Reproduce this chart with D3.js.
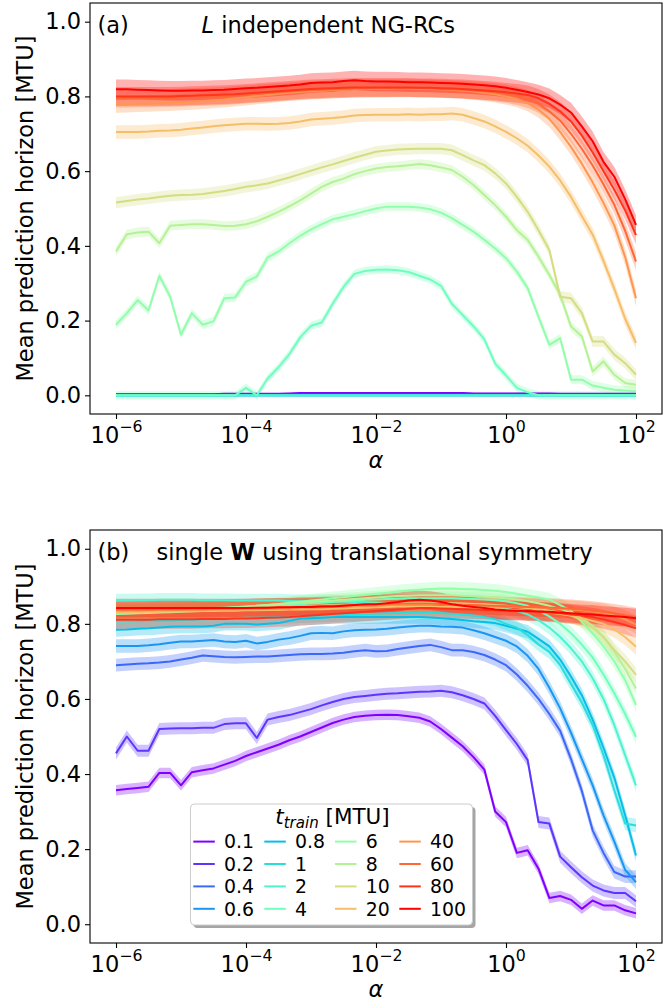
<!DOCTYPE html>
<html>
<head>
<meta charset="utf-8">
<script src="https://cdn.jsdelivr.net/npm/d3@7"></script>
<style>
  body { margin: 0; background: #fff; }
  svg { display: block; font-family: "DejaVu Sans", sans-serif; }
</style>
</head>
<body>
<svg id="chart" width="672" height="1004"></svg>
<script>
// t_train values (legend) and regularisation grid
const tTrain = ["0.1", "0.2", "0.4", "0.6", "0.8", "1", "2", "4", "6", "8", "10", "20", "40", "60", "80", "100"];
const alphas = [
  1e-6, 1.468e-6, 2.154e-6, 3.162e-6, 4.642e-6, 6.813e-6,
  1e-5, 1.468e-5, 2.154e-5, 3.162e-5, 4.642e-5, 6.813e-5,
  1e-4, 1.468e-4, 2.154e-4, 3.162e-4, 4.642e-4, 6.813e-4,
  1e-3, 1.468e-3, 2.154e-3, 3.162e-3, 4.642e-3, 6.813e-3,
  1e-2, 1.468e-2, 2.154e-2, 3.162e-2, 4.642e-2, 6.813e-2,
  1e-1, 1.468e-1, 2.154e-1, 3.162e-1, 4.642e-1, 6.813e-1,
  1, 1.468, 2.154, 3.162, 4.642, 6.813,
  10, 14.68, 21.54, 31.62, 46.42, 68.13,
  100
];
const xTickVals = [1e-6, 1e-4, 1e-2, 1, 100];
const xTickExp = ["\u22126", "\u22124", "\u22122", "0", "2"];
const yTicks = [0, 0.2, 0.4, 0.6, 0.8, 1.0];
const yTickLabels = ["0.0", "0.2", "0.4", "0.6", "0.8", "1.0"];

// (a) L independent NG-RCs
const a01 = [.003,.003,.003,.003,.003,.003,.003,.003,.003,.003,.004,.004,.004,.004,.004,.004,.005,.006,.006,.006,.006,.006,.006,.006,.006,.006,.006,.006,.006,.006,.006,.006,.006,.005,.005,.005,.005,.005,.005,.005,.005,.004,.004,.004,.004,.004,.004,.004,.004];
const a02 = [.002,.002,.002,.002,.002,.002,.002,.002,.002,.002,.002,.002,.002,.002,.002,.002,.002,.002,.002,.002,.002,.002,.002,.002,.002,.002,.002,.002,.002,.002,.002,.002,.002,.002,.002,.002,.002,.002,.002,.002,.002,.002,.002,.002,.002,.002,.002,.002,.002];
const a04 = [.001,.001,.001,.001,.001,.001,.001,.001,.001,.001,.001,.001,.001,.001,.001,.001,.001,.001,.001,.001,.001,.001,.001,.001,.001,.001,.001,.001,.001,.001,.001,.001,.001,.001,.001,.001,.001,.001,.001,.001,.001,.001,.001,.001,.001,.001,.001,.001,.001];
const a06 = [0,0,0,0,0,0,0,0,0,0,0,0,0,0,0,0,0,0,0,0,0,0,0,0,0,0,0,0,0,0,0,0,0,0,0,0,0,0,0,0,0,0,0,0,0,0,0,0,0];
const a08 = [0,0,0,0,0,0,0,0,0,0,0,0,0,0,0,0,0,0,0,0,0,0,0,0,0,0,0,0,0,0,0,0,0,0,0,0,0,0,0,0,0,0,0,0,0,0,0,0,0];
const a1 = [0,0,0,0,0,0,0,0,0,0,0,0,0,0,0,0,0,0,0,0,0,0,0,0,0,0,0,0,0,0,0,0,0,0,0,0,0,0,0,0,0,0,0,0,0,0,0,0,0];
const a2 = [0,0,0,0,0,0,0,0,0,0,0,0,0,0,0,0,0,0,0,0,0,0,0,0,0,0,0,0,0,0,0,0,0,0,0,0,0,0,0,0,0,0,0,0,0,0,0,0,0];
const a4 = [0,0,0,0,0,0,0,0,0,0,0,0,.02,0,.045,.075,.11,.155,.186,.195,.245,.29,.325,.333,.336,.337,.335,.33,.32,.31,.293,.245,.215,.185,.15,.085,.053,.02,.008,0,0,0,0,0,0,0,0,0,0];
const a6 = [.189,.22,.255,.227,.32,.264,.162,.22,.189,.198,.26,.262,.304,.318,.369,.385,.407,.427,.444,.458,.471,.478,.485,.493,.50,.505,.505,.505,.503,.498,.489,.474,.456,.438,.416,.393,.367,.331,.287,.21,.135,.153,.042,.042,.026,.02,.015,.013,.011];
const a8 = [.385,.431,.436,.438,.407,.454,.456,.458,.458,.456,.453,.454,.458,.466,.478,.491,.506,.522,.540,.558,.571,.580,.592,.60,.607,.611,.613,.616,.619,.616,.61,.603,.585,.563,.536,.509,.478,.442,.416,.371,.322,.269,.184,.158,.064,.091,.055,.033,.028];
const a10 = [.516,.520,.524,.527,.531,.534,.536,.537,.539,.543,.547,.552,.558,.562,.567,.575,.583,.592,.601,.610,.618,.627,.636,.644,.652,.655,.658,.659,.660,.660,.66,.656,.643,.629,.616,.594,.567,.531,.491,.442,.389,.264,.26,.22,.144,.144,.109,.086,.055];
const a20 = [.705,.705,.705,.706,.708,.709,.711,.714,.717,.720,.723,.725,.727,.727,.726,.727,.729,.733,.738,.740,.742,.745,.749,.750,.751,.751,.751,.752,.751,.752,.752,.754,.751,.742,.733,.72,.705,.688,.668,.642,.612,.575,.531,.48,.43,.36,.285,.205,.14];
const a40 = [.778,.779,.780,.781,.782,.783,.785,.786,.788,.790,.792,.795,.798,.801,.804,.807,.810,.812,.814,.815,.817,.818,.819,.820,.820,.820,.821,.821,.820,.820,.819,.818,.816,.813,.810,.806,.800,.793,.782,.765,.74,.705,.665,.62,.57,.515,.455,.37,.26];
const a60 = [.794,.794,.795,.795,.796,.796,.797,.798,.799,.80,.801,.803,.805,.807,.809,.811,.813,.815,.817,.818,.819,.820,.821,.821,.822,.822,.822,.822,.822,.821,.820,.819,.818,.816,.814,.811,.807,.801,.793,.78,.76,.735,.70,.66,.615,.565,.51,.44,.358];
const a80 = [.800,.800,.800,.800,.800,.800,.801,.802,.803,.804,.805,.806,.808,.810,.812,.814,.816,.818,.820,.821,.822,.823,.824,.824,.824,.824,.824,.824,.823,.823,.822,.821,.820,.818,.816,.814,.811,.808,.804,.795,.78,.76,.733,.695,.65,.60,.55,.495,.429];
const a100 = [.819,.819,.818,.817,.816,.815,.815,.816,.816,.817,.818,.820,.822,.823,.825,.827,.829,.832,.836,.837,.838,.841,.843,.841,.840,.840,.839,.838,.838,.837,.836,.835,.834,.832,.830,.827,.823,.818,.812,.805,.795,.778,.757,.72,.68,.625,.585,.525,.456];
const errA = [.002, .002, .002, .002, .002, .002, .002, .011, .012, .013, .015, .018, .022, .024, .025, .026];

// (b) single W using translational symmetry
const b01 = [.357,.36,.363,.366,.403,.403,.37,.405,.41,.415,.425,.435,.448,.458,.468,.478,.49,.50,.512,.524,.536,.545,.552,.555,.557,.558,.557,.554,.55,.54,.52,.497,.474,.445,.412,.30,.272,.19,.197,.148,.07,.075,.065,.041,.063,.05,.05,.037,.029];
const b02 = [.455,.50,.462,.462,.52,.521,.522,.522,.523,.523,.533,.535,.535,.496,.545,.552,.557,.565,.573,.583,.592,.60,.605,.608,.611,.614,.615,.617,.619,.62,.622,.618,.61,.60,.588,.555,.517,.48,.437,.272,.268,.18,.152,.125,.103,.09,.083,.083,.061];
const b04 = [.690,.692,.694,.695,.697,.70,.705,.71,.716,.714,.712,.711,.712,.713,.713,.715,.717,.719,.72,.72,.721,.723,.727,.73,.727,.728,.733,.737,.741,.744,.738,.730,.73,.725,.717,.705,.69,.665,.635,.60,.56,.515,.44,.355,.25,.19,.139,.127,.127];
const b06 = [.741,.741,.741,.743,.746,.75,.753,.753,.755,.757,.753,.752,.755,.748,.752,.758,.762,.768,.775,.776,.775,.78,.783,.784,.785,.787,.79,.793,.795,.795,.793,.792,.79,.783,.775,.765,.755,.74,.715,.68,.63,.575,.51,.44,.37,.29,.22,.145,.112];
const b08 = [.784,.785,.787,.788,.79,.792,.793,.793,.793,.795,.80,.80,.80,.798,.80,.802,.808,.814,.815,.816,.818,.818,.818,.818,.818,.818,.818,.818,.818,.817,.815,.813,.81,.807,.805,.802,.795,.787,.779,.76,.74,.705,.66,.61,.545,.47,.39,.29,.183];
const b1 = [.806,.806,.807,.808,.808,.809,.81,.811,.812,.813,.814,.815,.816,.816,.817,.818,.819,.82,.821,.822,.823,.824,.825,.826,.827,.828,.829,.83,.83,.83,.829,.827,.825,.822,.818,.812,.80,.79,.77,.745,.725,.69,.64,.59,.53,.45,.357,.268,.263];
const b2 = [.862,.862,.863,.863,.864,.864,.864,.864,.863,.863,.863,.862,.862,.862,.862,.862,.861,.86,.86,.86,.86,.859,.858,.858,.857,.856,.856,.855,.855,.854,.853,.852,.85,.848,.846,.843,.84,.835,.825,.81,.79,.765,.735,.70,.655,.60,.53,.45,.37];
const b4 = [.833,.834,.835,.836,.837,.838,.839,.84,.841,.842,.843,.844,.845,.846,.847,.848,.85,.852,.854,.856,.858,.86,.862,.864,.865,.866,.867,.868,.868,.868,.868,.868,.867,.866,.865,.863,.86,.855,.848,.835,.82,.80,.775,.745,.71,.665,.615,.56,.499];
const b6 = [.826,.827,.828,.829,.83,.831,.832,.834,.836,.838,.84,.842,.845,.848,.85,.853,.856,.859,.862,.865,.868,.871,.874,.877,.88,.883,.886,.889,.891,.893,.894,.894,.893,.892,.89,.888,.885,.88,.875,.87,.865,.85,.835,.805,.775,.74,.70,.65,.584];
const b8 = [.83,.831,.832,.833,.834,.835,.836,.837,.838,.84,.842,.844,.846,.848,.85,.852,.854,.856,.858,.86,.862,.864,.866,.868,.87,.872,.874,.875,.876,.876,.876,.876,.875,.874,.872,.87,.868,.865,.86,.855,.848,.84,.83,.815,.795,.765,.725,.68,.628];
const b10 = [.835,.835,.836,.836,.837,.837,.838,.838,.839,.84,.84,.841,.842,.843,.844,.845,.846,.847,.848,.849,.85,.851,.852,.853,.854,.855,.856,.856,.856,.856,.856,.855,.854,.853,.852,.85,.848,.845,.842,.84,.835,.83,.822,.81,.79,.765,.73,.70,.664];
const b20 = [.83,.83,.831,.831,.832,.832,.833,.833,.834,.834,.835,.835,.836,.836,.837,.837,.838,.838,.839,.839,.84,.841,.842,.843,.844,.845,.846,.846,.846,.846,.845,.845,.844,.843,.842,.84,.838,.836,.834,.832,.83,.826,.822,.815,.808,.80,.785,.765,.739];
const b40 = [.835,.835,.835,.836,.836,.836,.837,.837,.837,.838,.838,.838,.839,.839,.84,.84,.841,.842,.843,.844,.845,.846,.847,.848,.849,.85,.851,.852,.852,.852,.852,.851,.85,.849,.848,.847,.846,.845,.844,.843,.842,.84,.838,.836,.833,.83,.822,.812,.798];
const b60 = [.838,.838,.838,.838,.839,.839,.839,.84,.84,.84,.841,.841,.842,.842,.843,.843,.844,.845,.846,.847,.848,.849,.85,.851,.852,.853,.854,.854,.854,.854,.853,.852,.851,.85,.849,.848,.847,.846,.845,.844,.843,.842,.84,.838,.835,.832,.828,.823,.818];
const b80 = [.811,.811,.811,.811,.812,.812,.812,.812,.813,.813,.813,.814,.814,.815,.816,.817,.818,.82,.822,.824,.826,.828,.83,.832,.834,.836,.838,.84,.842,.842,.841,.84,.839,.838,.837,.836,.835,.834,.833,.832,.83,.828,.825,.822,.818,.812,.805,.797,.788];
const b100 = [.842,.842,.842,.842,.842,.842,.842,.842,.842,.842,.842,.842,.842,.843,.843,.844,.844,.845,.845,.846,.846,.848,.85,.852,.852,.855,.858,.862,.864,.862,.858,.852,.848,.845,.842,.838,.836,.835,.834,.833,.832,.83,.828,.826,.825,.822,.82,.818,.815];
const errB = [.014, .016, .017, .018, .018, .018, .018, .018, .018, .018, .02, .022, .024, .025, .025, .025];

const seriesA = [a01, a02, a04, a06, a08, a1, a2, a4, a6, a8, a10, a20, a40, a60, a80, a100];
const seriesB = [b01, b02, b04, b06, b08, b1, b2, b4, b6, b8, b10, b20, b40, b60, b80, b100];

// matplotlib "rainbow" colormap
function rainbow(t) {
  const r = Math.min(1, Math.abs(2 * t - 0.5));
  const g = Math.max(0, Math.sin(Math.PI * t));
  const b = Math.max(0, Math.cos(Math.PI * t / 2));
  return d3.rgb(r * 255, g * 255, b * 255).formatHex();
}
const colors = tTrain.map((_, i) => rainbow(i / (tTrain.length - 1)));

const FONT = 22.5;
const LEFT = 90, RIGHT = 662;
const svg = d3.select("#chart");

const x = d3.scaleLog().domain([Math.pow(10, -6.4), Math.pow(10, 2.4)]).range([LEFT, RIGHT]);

function drawPanel(top, bottom, series, errs, tag, titleParts, titleX) {
  const y = d3.scaleLinear().domain([-0.05, 1.05]).range([bottom, top]);
  const g = svg.append("g");

  const area = d3.area()
    .x((d, i) => x(alphas[i]))
    .y0((d) => y(d[0]))
    .y1((d) => y(d[1]));
  const line = d3.line()
    .x((d, i) => x(alphas[i]))
    .y((d) => y(d));

  // bands sit under every line (like fill_between zorder)
  const bandG = g.append("g");
  series.forEach((s, i) => {
    bandG.append("path")
      .attr("d", area(s.map((v) => [v - errs[i], v + errs[i]])))
      .attr("fill", colors[i])
      .attr("fill-opacity", 0.3)
      .attr("stroke", "none");
  });
  const lineG = g.append("g");
  series.forEach((s, i) => {
    lineG.append("path")
      .attr("d", line(s))
      .attr("fill", "none")
      .attr("stroke", colors[i])
      .attr("stroke-width", 2)
      .attr("stroke-linejoin", "round");
  });

  // y axis
  const gy = g.append("g")
    .attr("transform", `translate(${LEFT},0)`)
    .call(d3.axisLeft(y).tickValues(yTicks).tickSize(5).tickSizeOuter(0).tickPadding(4)
      .tickFormat((d, i) => yTickLabels[i]));
  gy.select(".domain").remove();
  gy.selectAll(".tick line").attr("stroke", "#000").attr("stroke-width", 1.1);
  gy.selectAll(".tick text")
    .attr("font-family", "DejaVu Sans").attr("font-size", FONT).attr("fill", "#000");

  // x axis with 10^n labels
  const gx = g.append("g")
    .attr("transform", `translate(0,${bottom})`)
    .call(d3.axisBottom(x).tickValues(xTickVals).tickSize(5).tickSizeOuter(0).tickFormat(""));
  gx.select(".domain").remove();
  gx.selectAll(".tick line").attr("stroke", "#000").attr("stroke-width", 1.1);
  gx.selectAll(".tick text").remove();
  gx.selectAll(".tick").each(function (d, i) {
    const t = d3.select(this).append("text")
      .attr("y", 29).attr("dy", 0)
      .attr("text-anchor", "middle")
      .attr("font-family", "DejaVu Sans")
      .attr("font-size", FONT)
      .attr("fill", "#000");
    t.append("tspan").text("10");
    t.append("tspan").attr("dy", -11).attr("font-size", FONT * 0.7).text(xTickExp[i]);
  });

  // frame
  g.append("rect")
    .attr("x", LEFT).attr("y", top)
    .attr("width", RIGHT - LEFT).attr("height", bottom - top)
    .attr("fill", "none").attr("stroke", "#000").attr("stroke-width", 1.1);

  // axis labels
  g.append("text")
    .attr("transform", `translate(33,${(top + bottom) / 2}) rotate(-90)`)
    .attr("text-anchor", "middle")
    .attr("font-size", FONT)
    .text("Mean prediction horizon [MTU]");
  g.append("text")
    .attr("x", (LEFT + RIGHT) / 2).attr("y", bottom + 54)
    .attr("text-anchor", "middle")
    .attr("font-size", FONT)
    .attr("font-style", "italic")
    .text("\u03b1");

  // panel tag and title
  g.append("text").attr("x", 97.5).attr("y", top + 29.5).attr("font-size", FONT).text(tag);
  const title = g.append("text").attr("x", titleX).attr("y", top + 29.5).attr("font-size", FONT);
  titleParts.forEach((p) => {
    const ts = title.append("tspan").text(p.text);
    if (p.italic) ts.attr("font-style", "italic");
    if (p.bold) ts.attr("font-weight", "bold");
  });
  return g;
}

drawPanel(3, 414, seriesA, errA, "(a)",
  [{ text: "L", italic: true }, { text: " independent NG-RCs" }], 201.5);
drawPanel(530, 943, seriesB, errB, "(b)",
  [{ text: "single " }, { text: "W", bold: true }, { text: " using translational symmetry" }], 156.5);

// legend for panel (b)
const LFONT = 18.9;
const TFONT = 21.5;
const leg = svg.append("g");
const lx0 = 190.5, ly0 = 804, lw = 282, lh = 121;
leg.append("rect")
  .attr("x", lx0 + 3).attr("y", ly0 + 3).attr("width", lw).attr("height", lh)
  .attr("rx", 4).attr("fill", "#4c4c4c").attr("fill-opacity", 0.5);
leg.append("rect")
  .attr("x", lx0).attr("y", ly0).attr("width", lw).attr("height", lh)
  .attr("rx", 4).attr("fill", "#fff").attr("stroke", "#cccccc").attr("stroke-width", 1);

const lt = leg.append("text")
  .attr("x", lx0 + lw / 2 + 1).attr("y", 823.5)
  .attr("text-anchor", "middle").attr("font-size", TFONT);
lt.append("tspan").attr("font-style", "italic").text("t");
lt.append("tspan").attr("font-style", "italic").attr("font-size", TFONT * 0.7).attr("dy", 4.5).text("train");
lt.append("tspan").attr("dy", -4.5).text(" [MTU]");

const colHandle = [193.3, 264.3, 335, 399.3];
const rowBase = [848.3, 870.7, 893.1, 915.5];
tTrain.forEach((lab, i) => {
  const c = Math.floor(i / 4), r = i % 4;
  const hx = colHandle[c], by = rowBase[r];
  leg.append("line")
    .attr("x1", hx).attr("x2", hx + 21.5)
    .attr("y1", by - 6.7).attr("y2", by - 6.7)
    .attr("stroke", colors[i]).attr("stroke-width", 2);
  leg.append("text")
    .attr("x", hx + 30.7).attr("y", by)
    .attr("font-size", LFONT)
    .text(lab);
});
</script>
</body>
</html>
